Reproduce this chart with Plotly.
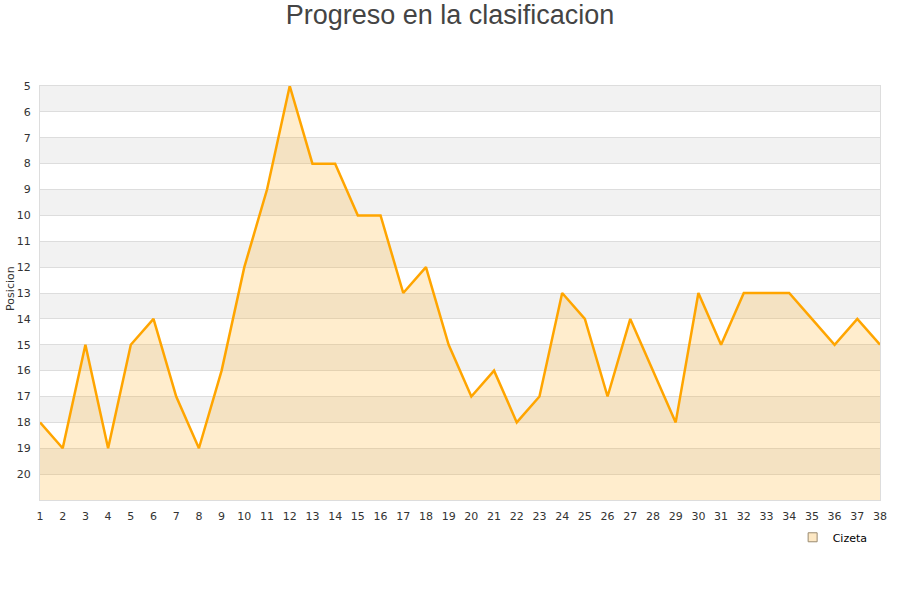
import plotly.graph_objects as go

# jornadas y posicion del equipo
jornadas = list(range(1, 39))
posicion = [18, 19, 15, 19, 15, 14, 17, 19, 16, 12,
            9, 5, 8, 8, 10, 10, 13, 12, 15, 17,
            16, 18, 17, 13, 14, 17, 14, 16, 18, 13,
            15, 13, 13, 13, 14, 15, 14, 15]
y_ticks = list(range(5, 21))
equipo = "Cizeta"

fondo = 21  # base del area (abajo del todo)

fig = go.Figure()

# base invisible para rellenar hasta abajo
fig.add_trace(go.Scatter(x=jornadas, y=[fondo] * len(jornadas), mode="lines",
                         line=dict(width=0), showlegend=False, hoverinfo="skip"))
fig.add_trace(go.Scatter(x=jornadas, y=posicion, mode="lines",
                         line=dict(color="#FFA500", width=2.5),
                         fill="tonexty", fillcolor="rgba(255,170,20,0.21)",
                         name=equipo, showlegend=False))
# entrada de leyenda
fig.add_trace(go.Scatter(x=[None], y=[None], mode="markers", name=equipo,
                         marker=dict(symbol="square", size=9, color="#FDE8C4",
                                     line=dict(color="#9a8a70", width=1))))

# bandas alternas grises
for v in range(5, 21, 2):
    fig.add_shape(type="rect", xref="x", yref="y", x0=1, x1=38, y0=v, y1=v + 1,
                  fillcolor="#F2F2F2", line=dict(width=0), layer="below")

# titulo del eje y como anotacion
fig.add_annotation(text="Posicion", xref="paper", yref="paper", x=-0.0345, y=0.51,
                   xanchor="center", yanchor="middle", textangle=-90, showarrow=False,
                   font=dict(size=11, color="#333333"))

fig.update_layout(
    width=900, height=600,
    paper_bgcolor="white", plot_bgcolor="white",
    margin=dict(l=40, r=20, t=86, b=100, autoexpand=False),
    title=dict(text="Progreso en la clasificacion", x=0.5, y=0.975, xanchor="center",
               yanchor="middle",
               font=dict(family="Liberation Sans, Arial", size=27, color="#444444")),
    font=dict(family="DejaVu Sans, Verdana", size=11, color="#333333"),
    legend=dict(x=0.896, y=-0.055, xanchor="left", yanchor="top",
                font=dict(size=11, color="#000000"), bgcolor="rgba(0,0,0,0)"),
    showlegend=True,
)
fig.update_xaxes(range=[1, 38], tickmode="array", tickvals=jornadas,
                 showgrid=False, zeroline=False, showline=True, linecolor="#DDDDDD",
                 mirror=True, automargin=False, ticks="", ticklabelstandoff=6,
                 tickfont=dict(size=11, color="#333333"))
fig.update_yaxes(range=[21, 5], tickmode="array", tickvals=y_ticks,
                 showgrid=True, gridcolor="#DDDDDD", gridwidth=1, zeroline=False,
                 showline=True, linecolor="#DDDDDD", mirror=True, automargin=False,
                 ticks="", ticklabelstandoff=6,
                 tickfont=dict(size=11, color="#333333"))

# quitar el margen por defecto del body para que la figura empiece en (0, 0)
fig.write_html("out.html", config={"displayModeBar": False},
               post_script="document.body.style.margin = '0';")
